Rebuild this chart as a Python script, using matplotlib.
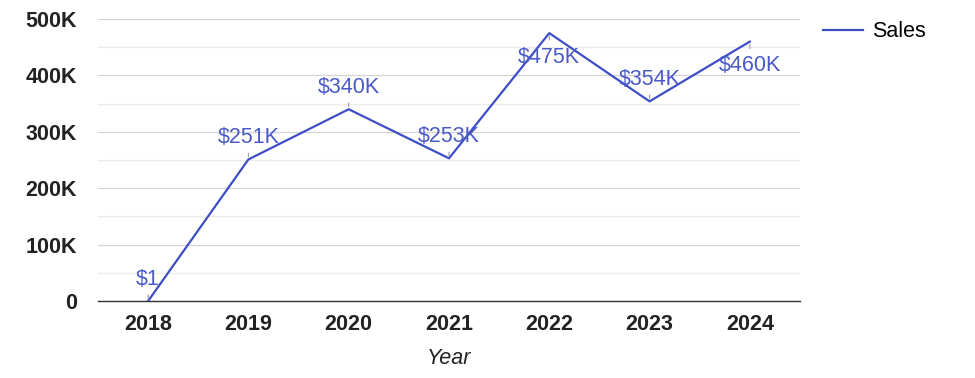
import matplotlib.pyplot as plt
from matplotlib.ticker import FuncFormatter, MultipleLocator

years = ['2018', '2019', '2020', '2021', '2022', '2023', '2024']
sales = [1, 251000, 340000, 253000, 475000, 354000, 460000]
labels = ['$1', '$251K', '$340K', '$253K', '$475K', '$354K', '$460K']
below = [False, False, False, False, True, False, True]

plt.rcParams['font.family'] = ['Liberation Sans', 'DejaVu Sans']

lineColor = '#3d4ec6'
textColor = '#4a5ac8'
fs = 15.5

fig = plt.figure(figsize=(9.75, 3.78), dpi=100)
ax = fig.add_axes([0.1005, 0.2037, 0.72, 0.746])

x = list(range(len(years)))
ax.plot(x, sales, color=lineColor, lw=1.6, label='Sales', zorder=3)

for i in range(len(x)):
    if below[i]:
        ax.annotate('', xy=(x[i], sales[i]), xytext=(0, -7), textcoords='offset points',
                    arrowprops=dict(arrowstyle='-', color='#999999', lw=0.8))
        ax.annotate(labels[i], xy=(x[i], sales[i]), xytext=(0, -21.5), textcoords='offset points',
                    ha='center', va='baseline', color=textColor, fontsize=fs)
    else:
        ax.annotate('', xy=(x[i], sales[i]), xytext=(0, 6.5), textcoords='offset points',
                    arrowprops=dict(arrowstyle='-', color='#999999', lw=0.8))
        ax.annotate(labels[i], xy=(x[i], sales[i]), xytext=(0, 11.5), textcoords='offset points',
                    ha='center', va='baseline', color=textColor, fontsize=fs)

ax.set_xlim(-0.5, 6.5)
ax.set_ylim(0, 500000)
ax.set_xticks(x)
ax.set_xticklabels(years)
ax.yaxis.set_major_locator(MultipleLocator(100000))
ax.yaxis.set_minor_locator(MultipleLocator(50000))
ax.yaxis.set_major_formatter(FuncFormatter(lambda v, p: '0' if v == 0 else '%dK' % (v / 1000)))
ax.grid(axis='y', which='major', color='#d4d4d4', lw=0.9)
ax.grid(axis='y', which='minor', color='#ececec', lw=0.9)
ax.set_axisbelow(True)

for s in ['top', 'right', 'left']:
    ax.spines[s].set_visible(False)
ax.spines['bottom'].set_color('#333333')
ax.spines['bottom'].set_linewidth(1.0)
ax.tick_params(axis='both', which='both', length=0)
ax.tick_params(axis='y', pad=15)
ax.tick_params(axis='x', pad=9)
for t in ax.get_xticklabels() + ax.get_yticklabels():
    t.set_fontsize(fs)
    t.set_fontweight('bold')
    t.set_color('#222222')

ax.set_xlabel('Year', fontsize=fs, style='italic', color='#222222', labelpad=10)

fig.legend(handles=ax.get_lines(), loc='upper left', bbox_to_anchor=(0.824, 0.995),
           frameon=False, fontsize=fs, handlelength=1.85, handletextpad=0.45)

fig.savefig('out.png')
